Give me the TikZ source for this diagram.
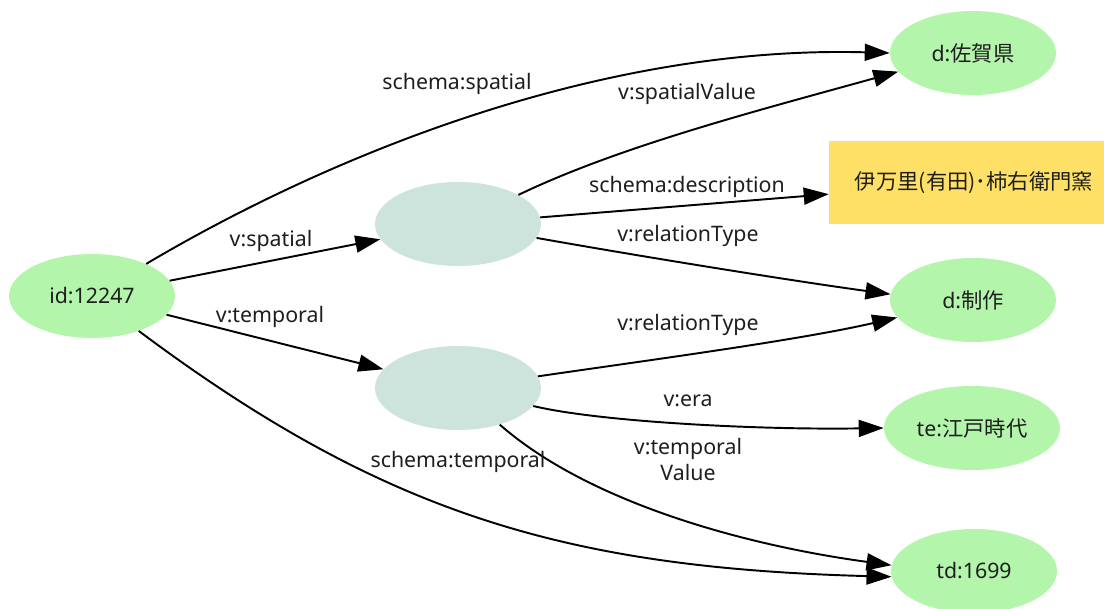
\documentclass[tikz,border=0pt]{standalone}
\usepackage{fontspec}
\setmainfont{Noto Sans}
\newfontfamily\jp{Noto Sans CJK JP}
\usetikzlibrary{arrows.meta,shapes.geometric}
\definecolor{litgreen}{RGB}{180,245,172}
\definecolor{blankfill}{RGB}{204,228,220}
\definecolor{notefill}{RGB}{255,224,102}
\definecolor{ink}{RGB}{30,30,30}
\begin{document}
\begin{tikzpicture}[x=0.75pt,y=-0.75pt,
  font=\fontsize{16}{19.5}\selectfont, text=ink,
  res/.style={ellipse, fill=litgreen, minimum width=124.5pt, minimum height=63pt, inner sep=0pt},
  blank/.style={ellipse, fill=blankfill, minimum width=124.5pt, minimum height=63pt, inner sep=0pt},
  lit/.style={rectangle, fill=notefill, minimum width=217.5pt, minimum height=62.25pt, inner sep=0pt},
  rel/.style={draw=black, line width=1.45pt, -{Triangle[length=18.75pt,width=12.75pt]}},
  lbl/.style={anchor=base, inner sep=0pt, align=center},
]
\useasboundingbox (0,0) rectangle (1104,609);

% resources and blank nodes
\node[res] (id) at (92,296) {id:12247};
\node[blank] (b1) at (458,224) {};
\node[blank] (b2) at (458,388) {};
\node[res] (d1) at (973,53) {d:{\jp 佐賀県}};
\node[lit] (desc) at (974,182.5) {\jp 伊万里(有田)･柿右衛門窯};
\node[res] (d2) at (973,300) {d:{\jp 制作}};
\node[res, minimum width=132pt] (te) at (972,428) {te:{\jp 江戸時代}};
\node[res] (td) at (974,571) {td:1699};

% properties
\draw[rel] (id) .. controls (330,155) and (600,45) .. (d1.west);
\draw[rel] (id) -- (b1);
\draw[rel] (id) -- (b2);
\draw[rel] (id) .. controls (385,515) and (568,568) .. (td.184);
\draw[rel] (b1) .. controls (620,146) and (760,110) .. (d1.194);
\draw[rel] (b1) -- (desc);
\draw[rel] (b1) .. controls (650,258) and (800,282) .. (d2.176);
\draw[rel] (b2) .. controls (650,360) and (800,340) .. (d2.193);
\draw[rel] (b2) .. controls (600,422) and (760,430) .. (te.west);
\draw[rel] (b2) .. controls (588,502) and (743,545) .. (td.176);

% property labels
\node[lbl] (lSpatial) at (457,90) {schema:spatial};
\node[lbl] (lSpVal) at (687,100) {v:spatialValue};
\node[lbl] (lDesc) at (687,193) {schema:description};
\node[lbl] (lRel1) at (688,242) {v:relationType};
\node[lbl] (lVsp) at (271,247) {v:spatial};
\node[lbl] (lVtm) at (270,323) {v:temporal};
\node[lbl] (lRel2) at (688,331) {v:relationType};
\node[lbl] (lEra) at (688,407) {v:era};
\node[lbl] (lTv) at (688,481) {v:temporal\\Value};
\node[lbl] (lSt) at (458,468) {schema:temporal};
\end{tikzpicture}
\end{document}
